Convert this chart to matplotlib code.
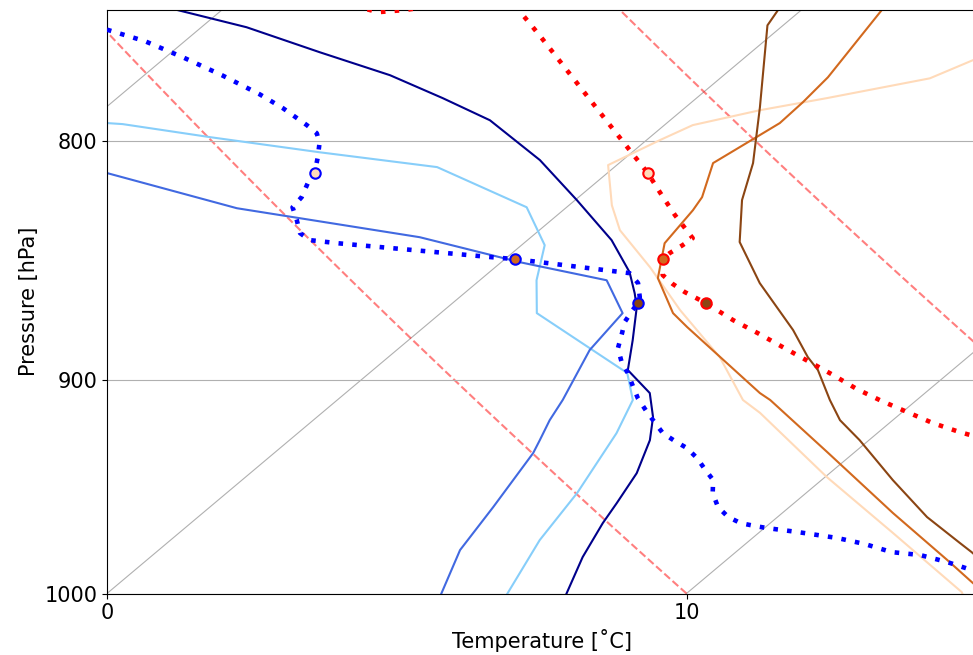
import numpy as np
import matplotlib
matplotlib.use('Agg')
import matplotlib.pyplot as plt
from matplotlib.transforms import Affine2D
from matplotlib.ticker import FixedLocator, ScalarFormatter, NullLocator

# ---------------- data (temperature degC, pressure hPa) ----------------
navy_T = [-10.77, -9.22, -7.44, -5.76, -4.38, -3.11, -1.43, 0.03, 1.45, 2.42, 2.94, 3.26,
          3.87, 4.40, 5.25, 5.80, 6.22, 6.67, 6.94, 7.11, 7.46, 7.93]
navy_p = [750.0, 756.4, 765.8, 774.5, 783.3, 791.9, 807.6, 823.7, 840.1, 853.5, 862.4, 868.3,
          882.6, 895.7, 905.9, 916.7, 927.2, 942.4, 956.4, 965.9, 982.2, 1000.0]

light_T = [-9.66, -9.37, -7.60, -5.39, -3.06, -0.69, 0.40, 0.98, 1.66, 4.45, 5.10, 5.50,
           6.05, 6.37, 6.91]
light_p = [793.0, 793.4, 798.5, 804.5, 810.4, 826.6, 842.2, 856.9, 870.9, 897.0, 909.0, 924.0,
           951.7, 974.0, 1000.0]

royal_T = [-8.63, -5.67, -1.92, 0.32, 2.19, 3.14, 3.33, 3.89, 4.08, 4.32, 4.47, 4.89, 5.20, 5.77]
royal_p = [812.8, 827.0, 838.9, 849.3, 856.9, 870.9, 886.9, 909.0, 918.1, 927.2, 933.1, 958.3,
           978.8, 1000.0]

bdot_T = [-11.58, -10.69, -9.70, -8.66, -7.62, -6.93, -6.17, -5.83, -5.58, -5.32, -5.05, -4.96,
          -4.78, -4.73, -4.39, -4.07, -3.76, -3.21, -0.27, 0.17, 2.44, 2.79, 3.11, 3.20, 3.25,
          3.36, 3.54, 3.78, 4.13, 4.46, 4.84, 5.15, 5.59, 5.96, 6.30, 6.67, 7.02, 7.40, 7.76,
          8.13, 8.39, 8.77, 9.15, 9.49, 9.80, 10.06, 10.64, 11.46, 12.06, 12.69, 13.24, 13.85,
          14.44, 14.65]
bdot_p = [757.3, 761.6, 767.7, 774.5, 781.8, 787.2, 793.8, 797.0, 800.9, 806.5, 812.8, 816.9,
          822.5, 826.6, 831.9, 837.2, 840.1, 841.4, 847.2, 848.0, 853.9, 858.1, 864.1, 866.6,
          869.6, 874.8, 879.5, 886.1, 892.2, 897.0, 903.2, 908.2, 914.4, 919.4, 924.0, 927.6,
          930.8, 935.4, 940.5, 945.6, 951.7, 958.3, 963.0, 965.9, 967.3, 968.3, 970.1, 973.0,
          975.9, 979.8, 981.2, 984.6, 988.5, 990.0]

rdot_T = [-7.80, -7.26, -6.84, -6.30, -5.00, -4.70, -4.00, -2.47, -0.94, 0.70, 1.30, 2.03, 2.81,
          2.78, 2.72, 2.72, 3.05, 3.41, 3.78, 4.37, 5.19, 5.88, 6.60, 7.32, 8.00, 8.74, 9.42,
          10.08, 10.75, 11.40, 11.67, 12.00]
rdot_p = [748.5, 750.8, 750.0, 748.0, 748.0, 751.9, 759.4, 776.4, 793.8, 812.8, 820.5, 829.8,
          839.3, 842.2, 845.5, 848.0, 854.7, 858.5, 861.9, 866.6, 873.9, 879.5, 885.6, 891.7,
          897.5, 904.1, 909.5, 914.4, 919.4, 923.5, 925.0, 926.5]

sbrown_T = [-0.40, -0.27, 1.28, 2.31, 2.88, 3.70, 4.89, 6.43, 7.24, 7.68, 8.50, 9.09, 9.84,
            11.23, 12.58, 13.68, 14.07, 14.50]
sbrown_p = [750.1, 755.7, 786.8, 808.8, 823.7, 840.9, 858.1, 878.2, 890.0, 895.7, 909.0, 918.1,
            927.2, 945.6, 963.0, 975.4, 979.8, 985.0]

choc_T = [1.39, 1.57, 1.84, 1.92, 1.95, 1.85, 1.62, 2.13, 2.24, 2.43, 3.03, 4.01, 4.54, 7.15,
          7.47, 9.52, 11.91, 13.81, 14.69, 15.15]
choc_p = [750.1, 760.1, 775.3, 784.9, 793.0, 797.8, 808.8, 822.5, 827.8, 841.4, 856.0, 870.9,
          876.9, 905.9, 909.0, 932.6, 961.1, 983.6, 994.4, 1000.0]

peach_T = [4.09, 3.99, 3.62, 2.25, 1.34, 0.49, 0.23, -0.15, 0.74, 1.39, 2.67, 4.07, 5.72, 7.00,
           7.56, 10.03, 12.32, 14.72, 14.76]
peach_p = [766.9, 768.8, 775.7, 783.3, 788.0, 793.8, 799.7, 809.6, 825.8, 836.0, 851.4, 869.6,
           890.0, 909.0, 914.8, 944.2, 970.6, 999.3, 1000.0]

marker_p = [812.8, 848.0, 866.6]
marker_blue_T = [-5.05, 0.17, 3.20]
marker_red_T = [0.70, 2.72, 4.37]
marker_fill = ['peachpuff', 'chocolate', 'saddlebrown']

isotherms = [-20, -10, 0, 10, 20]
adiabat_theta0 = [-10, 0, 10, 20, 30, 40]

# ---------------- figure ----------------
W, H = 973, 655
fig = plt.figure(figsize=(W / 100, H / 100), dpi=100)
ax_w_px = 15 * 57.95
ax_h_px = 583.5
ax = fig.add_axes([107 / W, (H - 593.5) / H, ax_w_px / W, ax_h_px / H])
ax.set_yscale('log')
ax.set_xlim(0, 15)
ax.set_ylim(1000, 750)

k = 1.19 * ax_h_px / ax_w_px
skew = ax.transScale + ax.transLimits + Affine2D().skew(np.arctan(k), 0) + ax.transAxes

# grid: horizontal isobars and skewed isotherms
ax.yaxis.grid(True, color='#b0b0b0', lw=0.8, zorder=0)
pp = np.array([1000.0, 740.0])
for t0 in isotherms:
    ax.plot([t0, t0], pp, transform=skew, color='#b0b0b0', lw=0.8, zorder=0.5)

# dry adiabats
pa = np.linspace(1000, 740, 60)
for th in adiabat_theta0:
    ta = (th + 273.15) * (pa / 1000.0) ** 0.2857 - 273.15
    ax.plot(ta, pa, transform=skew, color='r', ls='--', lw=1.5, alpha=0.5, zorder=1)

lw = 1.5
ax.plot(light_T, light_p, transform=skew, color='lightskyblue', lw=lw, zorder=2)
ax.plot(royal_T, royal_p, transform=skew, color='royalblue', lw=lw, zorder=2)
ax.plot(navy_T, navy_p, transform=skew, color='darkblue', lw=lw, zorder=2)
ax.plot(peach_T, peach_p, transform=skew, color='peachpuff', lw=lw, zorder=2)
ax.plot(choc_T, choc_p, transform=skew, color='chocolate', lw=lw, zorder=2)
ax.plot(sbrown_T, sbrown_p, transform=skew, color='saddlebrown', lw=lw, zorder=2)

ax.plot(bdot_T, bdot_p, transform=skew, color='blue', lw=3.3, ls=(0, (1, 2.0)), zorder=3)
ax.plot(rdot_T, rdot_p, transform=skew, color='red', lw=3.3, ls=(0, (1, 2.0)), zorder=3)

for t, p, c in zip(marker_blue_T, marker_p, marker_fill):
    ax.plot([t], [p], 'o', transform=skew, ms=7.5, mfc=c, mec='blue', mew=1.5, zorder=4)
for t, p, c in zip(marker_red_T, marker_p, marker_fill):
    ax.plot([t], [p], 'o', transform=skew, ms=7.5, mfc=c, mec='red', mew=1.5, zorder=4)

ax.set_xlim(0, 15)
ax.set_ylim(1000, 750)
ax.xaxis.set_major_locator(FixedLocator([0, 10]))
ax.xaxis.set_minor_locator(NullLocator())
ax.yaxis.set_major_locator(FixedLocator([800, 900, 1000]))
ax.yaxis.set_major_formatter(ScalarFormatter())
ax.yaxis.set_minor_locator(NullLocator())
ax.tick_params(labelsize=15)

ax.set_xlabel('Temperature [˚C]', fontsize=15)
ax.set_ylabel('Pressure [hPa]', fontsize=15)

fig.savefig('out.png', dpi=100)
